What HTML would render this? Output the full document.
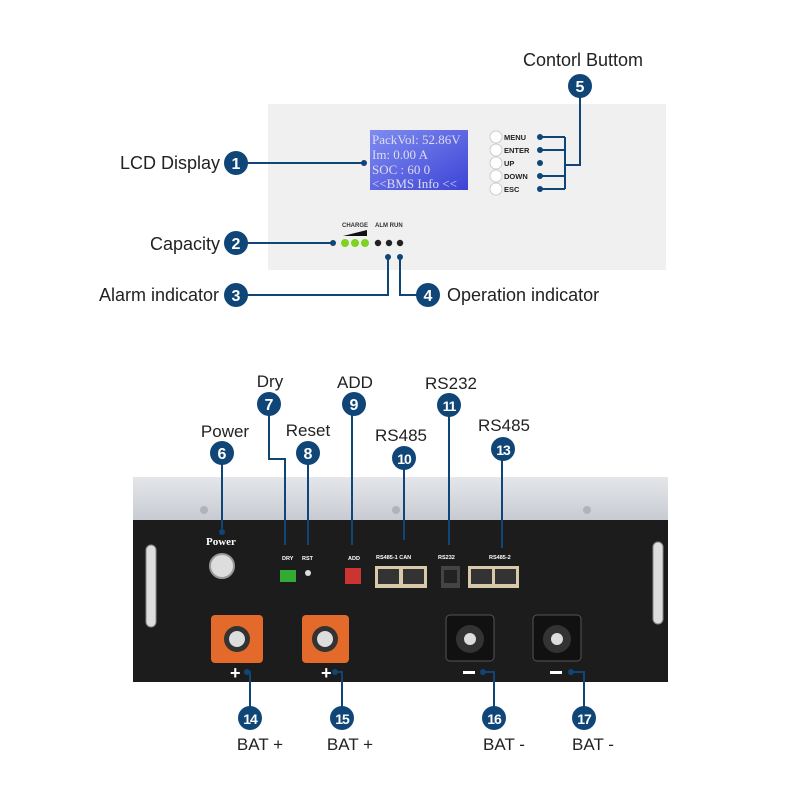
<!DOCTYPE html>
<html><head><meta charset="utf-8"><style>
html,body{margin:0;padding:0;background:#fff;}
svg{display:block;font-family:"Liberation Sans",Arial,sans-serif;}
</style></head><body>
<svg width="800" height="800" viewBox="0 0 800 800" xmlns="http://www.w3.org/2000/svg">
<defs>
<linearGradient id="lcd" x1="0" y1="0" x2="1" y2="1"><stop offset="0" stop-color="#7f8cf0"/><stop offset="1" stop-color="#3d44d6"/></linearGradient>
<linearGradient id="top" x1="0" y1="0" x2="0" y2="1"><stop offset="0" stop-color="#e4e6ea"/><stop offset="1" stop-color="#c7cbd1"/></linearGradient>
</defs>
<rect x="268" y="104" width="398" height="166" fill="#f0f0f0"/>
<rect x="370" y="130" width="98" height="60" fill="url(#lcd)"/>
<g font-family="Liberation Serif,serif" font-size="13" fill="#dde">
<text x="372" y="144">PackVol: 52.86V</text><text x="372" y="159">Im:    0.00 A</text><text x="372" y="174">SOC :  60   0</text><text x="372" y="188">&lt;&lt;BMS Info &lt;&lt;</text></g>
<g fill="#fff" stroke="#ccc"><circle cx="496" cy="137" r="6"/><circle cx="496" cy="150" r="6"/><circle cx="496" cy="163" r="6"/><circle cx="496" cy="176" r="6"/><circle cx="496" cy="189" r="6"/></g>
<g font-size="7.5" font-weight="bold" fill="#222"><text x="504" y="140">MENU</text><text x="504" y="153">ENTER</text><text x="504" y="166">UP</text><text x="504" y="179">DOWN</text><text x="504" y="192">ESC</text></g>
<g font-size="6" font-weight="bold" fill="#333"><text x="342" y="227">CHARGE</text><text x="375" y="227">ALM RUN</text></g>
<polygon points="343,236 367,230 367,236" fill="#111"/>
<g fill="#7ed321"><circle cx="345" cy="243" r="4"/><circle cx="355" cy="243" r="4"/><circle cx="365" cy="243" r="4"/></g>
<g fill="#222"><circle cx="378" cy="243" r="3.2"/><circle cx="389" cy="243" r="3.2"/><circle cx="400" cy="243" r="3.2"/></g>
<g stroke="#0f4577" stroke-width="2" fill="none">
<line x1="236" y1="163" x2="364" y2="163"/>
<line x1="236" y1="243" x2="333" y2="243"/>
<polyline points="236,295 388,295 388,257"/>
<polyline points="428,295 400,295 400,257"/>
<polyline points="580,86 580,165 565,165"/>
<line x1="565" y1="137" x2="565" y2="189"/>
<line x1="540" y1="137" x2="565" y2="137"/><line x1="540" y1="150" x2="565" y2="150"/><line x1="540" y1="176" x2="565" y2="176"/><line x1="540" y1="189" x2="565" y2="189"/>
</g>
<g fill="#0f4577"><circle cx="364" cy="163" r="3"/><circle cx="333" cy="243" r="3"/><circle cx="388" cy="257" r="3"/><circle cx="400" cy="257" r="3"/><circle cx="540" cy="137" r="3"/><circle cx="540" cy="150" r="3"/><circle cx="540" cy="163" r="3"/><circle cx="540" cy="176" r="3"/><circle cx="540" cy="189" r="3"/></g>
<rect x="133" y="477" width="535" height="44" fill="url(#top)"/>
<rect x="133" y="520" width="535" height="162" fill="#1c1c1c"/>
<g fill="#b0b4b8"><circle cx="204" cy="510" r="4"/><circle cx="396" cy="510" r="4"/><circle cx="587" cy="510" r="4"/></g>
<rect x="146" y="545" width="10" height="82" rx="5" fill="#ddd" stroke="#888"/>
<rect x="653" y="542" width="10" height="82" rx="5" fill="#ddd" stroke="#888"/>
<text x="206" y="545" font-family="Liberation Serif,serif" font-weight="bold" font-size="11" fill="#fff">Power</text>
<circle cx="222" cy="566" r="12" fill="#ddd" stroke="#999" stroke-width="2"/>
<g font-size="5.5" font-weight="bold" fill="#fff"><text x="282" y="560">DRY</text><text x="302" y="560">RST</text><text x="348" y="560">ADD</text><text x="376" y="559">RS485-1 CAN</text><text x="438" y="559">RS232</text><text x="489" y="559">RS485-2</text></g>
<rect x="280" y="570" width="16" height="12" fill="#3a3"/>
<circle cx="308" cy="573" r="3" fill="#ddd"/>
<rect x="345" y="568" width="16" height="16" fill="#c33"/>
<rect x="375" y="566" width="52" height="22" fill="#d8c9a8"/>
<rect x="378" y="569" width="21" height="15" fill="#333"/><rect x="403" y="569" width="21" height="15" fill="#333"/>
<rect x="441" y="566" width="19" height="22" fill="#444"/><rect x="444" y="570" width="13" height="13" fill="#222"/>
<rect x="468" y="566" width="51" height="22" fill="#d8c9a8"/>
<rect x="471" y="569" width="21" height="15" fill="#333"/><rect x="495" y="569" width="21" height="15" fill="#333"/>
<g><rect x="211" y="615" width="52" height="48" rx="4" fill="#e46a2b"/><circle cx="237" cy="639" r="13" fill="#333"/><circle cx="237" cy="639" r="8" fill="#ddd"/></g>
<g><rect x="302" y="615" width="47" height="48" rx="4" fill="#e46a2b"/><circle cx="325" cy="639" r="13" fill="#333"/><circle cx="325" cy="639" r="8" fill="#ddd"/></g>
<g><rect x="446" y="615" width="48" height="46" rx="4" fill="#111" stroke="#555"/><circle cx="470" cy="639" r="14" fill="#333"/><circle cx="470" cy="639" r="6" fill="#ddd"/></g>
<g><rect x="533" y="615" width="48" height="46" rx="4" fill="#111" stroke="#555"/><circle cx="557" cy="639" r="14" fill="#333"/><circle cx="557" cy="639" r="6" fill="#ddd"/></g>
<g fill="#fff" font-weight="bold" font-size="18"><text x="230" y="679">+</text><text x="321" y="679">+</text></g>
<rect x="463" y="671" width="12" height="3" fill="#fff"/><rect x="550" y="671" width="12" height="3" fill="#fff"/>
<g stroke="#0f4577" stroke-width="2" fill="none">
<line x1="222" y1="453" x2="222" y2="532"/>
<polyline points="269,404 269,459 285,459 285,545"/>
<line x1="308" y1="453" x2="308" y2="545"/>
<line x1="352" y1="404" x2="352" y2="545"/>
<line x1="404" y1="458" x2="404" y2="540"/>
<line x1="449" y1="405" x2="449" y2="545"/>
<line x1="502" y1="449" x2="502" y2="548"/>
<polyline points="250,718 250,672 247,672"/><polyline points="342,718 342,672 335,672"/><polyline points="494,718 494,672 483,672"/><polyline points="584,718 584,672 571,672"/>
</g>
<g fill="#0f4577"><circle cx="222" cy="532" r="3"/><circle cx="247" cy="672" r="3"/><circle cx="335" cy="672" r="3"/><circle cx="483" cy="672" r="3"/><circle cx="571" cy="672" r="3"/></g>
<g fill="#0f4577">
<circle cx="236" cy="163" r="12"/><circle cx="236" cy="243" r="12"/><circle cx="236" cy="295" r="12"/><circle cx="428" cy="295" r="12"/><circle cx="580" cy="86" r="12"/>
<circle cx="222" cy="453" r="12"/><circle cx="269" cy="404" r="12"/><circle cx="308" cy="453" r="12"/><circle cx="354" cy="404" r="12"/><circle cx="404" cy="458" r="12"/><circle cx="449" cy="405" r="12"/><circle cx="503" cy="449" r="12"/>
<circle cx="250" cy="718" r="12"/><circle cx="342" cy="718" r="12"/><circle cx="494" cy="718" r="12"/><circle cx="584" cy="718" r="12"/>
</g>
<g fill="#fff" font-size="16" text-anchor="middle" font-weight="bold">
<text x="236" y="169">1</text><text x="236" y="249">2</text><text x="236" y="301">3</text><text x="428" y="301">4</text><text x="580" y="92">5</text>
<text x="222" y="459">6</text><text x="269" y="410">7</text><text x="308" y="459">8</text><text x="354" y="410">9</text>
<text x="404" y="464" font-size="14" letter-spacing="-1">10</text><text x="449" y="411" font-size="14" letter-spacing="-1">11</text><text x="503" y="455" font-size="14" letter-spacing="-1">13</text>
<text x="250" y="724" font-size="14" letter-spacing="-1">14</text><text x="342" y="724" font-size="14" letter-spacing="-1">15</text><text x="494" y="724" font-size="14" letter-spacing="-1">16</text><text x="584" y="724" font-size="14" letter-spacing="-1">17</text>
</g>
<g fill="#222" font-size="18">
<text x="220" y="169" text-anchor="end">LCD Display</text>
<text x="220" y="250" text-anchor="end">Capacity</text>
<text x="219" y="301" text-anchor="end">Alarm indicator</text>
<text x="447" y="301">Operation indicator</text>
<text x="583" y="66" text-anchor="middle">Contorl Buttom</text>
</g>
<g fill="#222" font-size="17" text-anchor="middle">
<text x="225" y="437">Power</text><text x="270" y="387">Dry</text><text x="308" y="436">Reset</text><text x="355" y="388">ADD</text><text x="401" y="441">RS485</text><text x="451" y="389">RS232</text><text x="504" y="431">RS485</text>
<text x="260" y="750">BAT +</text><text x="350" y="750">BAT +</text><text x="504" y="750">BAT -</text><text x="593" y="750">BAT -</text>
</g>
</svg>
</body></html>
